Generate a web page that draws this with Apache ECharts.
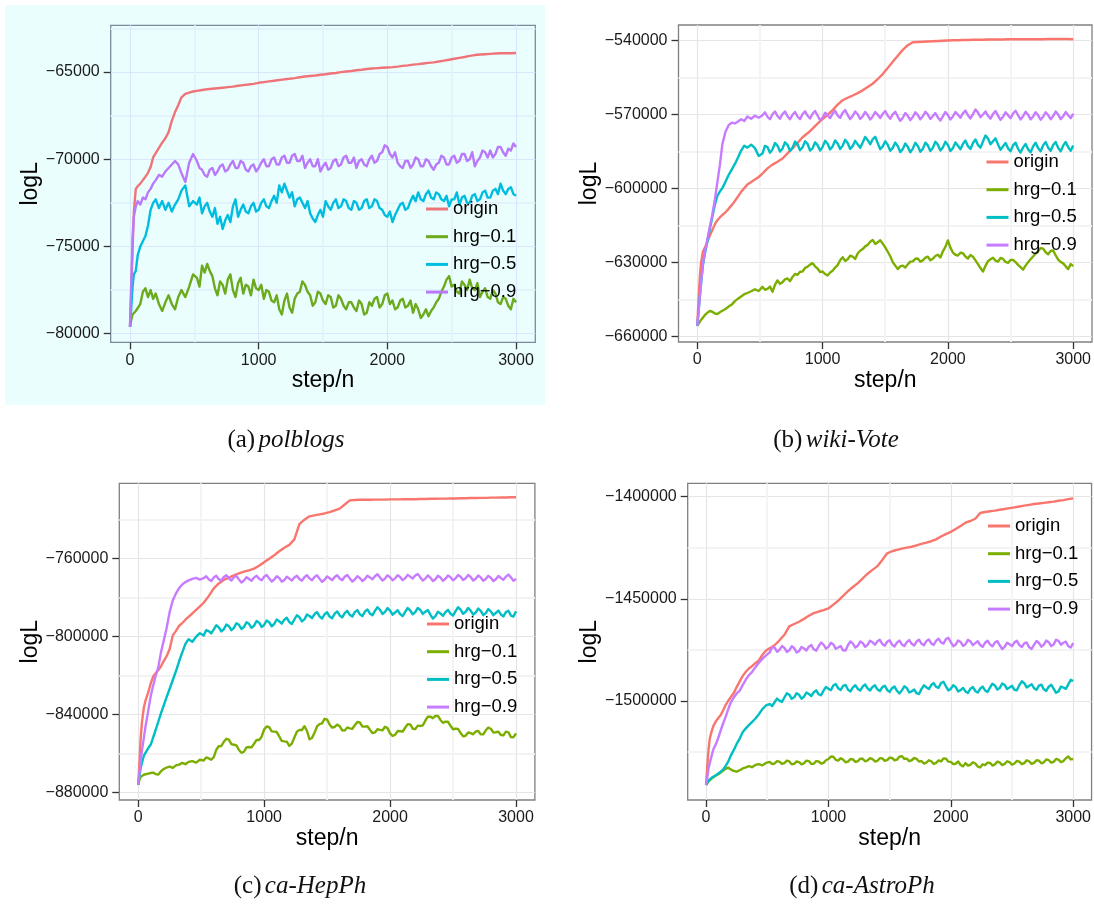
<!DOCTYPE html>
<html>
<head>
<meta charset="utf-8">
<script src="https://cdn.jsdelivr.net/npm/echarts@6/dist/echarts.min.js"></script>
<style>
  html, body { margin: 0; padding: 0; background: #ffffff; }
  #chart { width: 1094px; height: 915px; }
</style>
</head>
<body>
<div id="chart"></div>
<script>
// step/n positions for the smooth "origin" curves
const stepsCoarse = [0,10,20,30,45,60,80,100,120,140,160,180,200,225,250,275,300,325,350,375,400,430,460,490,
  520,560,600,640,680,720,760,800,840,880,
  920,960,1000,1040,1080,1120,1160,1200,1240,1280,
  1320,1360,1400,1440,1480,1520,1560,1600,1640,1680,
  1720,1760,1800,1840,1880,1920,1960,2000,2040,2080,
  2120,2160,2200,2240,2280,2320,2360,2400,2440,2480,
  2520,2560,2600,2640,2680,2720,2760,2800,2840,2880,
  2920,2960,3000];

// step/n positions for the noisy hrg curves
const stepsFine = [0,10,20,30,45,60,80,100,120,140,160,180,200,225,250,275,300,325,350,375,400,430,460,490,
  520,540,560,580,600,620,640,660,680,700,
  720,740,760,780,800,820,840,860,880,900,
  920,940,960,980,1000,1020,1040,1060,1080,1100,
  1120,1140,1160,1180,1200,1220,1240,1260,1280,1300,
  1320,1340,1360,1380,1400,1420,1440,1460,1480,1500,
  1520,1540,1560,1580,1600,1620,1640,1660,1680,1700,
  1720,1740,1760,1780,1800,1820,1840,1860,1880,1900,
  1920,1940,1960,1980,2000,2020,2040,2060,2080,2100,
  2120,2140,2160,2180,2200,2220,2240,2260,2280,2300,
  2320,2340,2360,2380,2400,2420,2440,2460,2480,2500,
  2520,2540,2560,2580,2600,2620,2640,2660,2680,2700,
  2720,2740,2760,2780,2800,2820,2840,2860,2880,2900,
  2920,2940,2960,2980,3000];

const seriesNames = ['origin', 'hrg\u22120.1', 'hrg\u22120.5', 'hrg\u22120.9'];

// ---- (a) polblogs : logL ----
const polblogsOrigin = [-79600,-77500,-75200,-73000,-71700,-71550,-71400,-71200,-71000,-70780,-70450,-69900,-69650,-69350,-69050,-68800,-68450,-67800,-67300,-66900,-66450,-66250,-66180,-66120,
  -66080,-66030,-65990,-65960,-65930,-65900,-65870,-65840,-65790,-65750,
  -65720,-65680,-65620,-65580,-65540,-65500,-65460,-65420,-65390,-65350,
  -65300,-65260,-65230,-65200,-65160,-65130,-65090,-65060,-65010,-64970,
  -64940,-64900,-64870,-64830,-64800,-64780,-64760,-64740,-64720,-64690,
  -64650,-64620,-64580,-64550,-64510,-64480,-64450,-64400,-64350,-64300,
  -64240,-64190,-64140,-64080,-64030,-64000,-63980,-63960,-63940,-63930,
  -63920,-63930,-63910];
const polblogsHrg01 = [-79600,-79200,-78900,-79000,-78700,-78800,-78300,-77600,-77400,-77900,-77500,-78000,-77700,-78300,-78700,-78200,-77800,-78300,-78600,-77900,-77500,-77900,-77300,-76600,
  -76800,-77300,-76100,-76500,-76000,-76400,-76700,-77400,-77800,-77000,
  -77200,-77700,-76900,-76600,-77500,-77900,-77100,-76800,-77700,-77200,
  -77300,-77800,-76900,-77400,-77500,-77200,-78000,-77500,-77600,-78100,
  -78200,-77800,-78600,-78900,-78100,-77700,-78500,-78800,-78000,-77700,
  -77600,-77000,-77200,-77600,-77800,-78400,-78200,-77600,-77700,-78100,
  -78300,-77800,-77900,-78500,-78400,-77800,-78000,-78400,-78600,-78200,
  -78200,-78500,-78700,-78100,-78300,-78900,-78800,-78200,-78400,-78000,
  -77900,-78500,-78300,-77800,-77700,-78300,-78100,-78600,-78500,-78100,
  -78000,-78500,-78400,-78100,-78800,-78300,-78600,-79100,-78900,-78600,
  -79000,-78700,-78500,-78200,-78000,-77600,-77300,-76900,-76700,-77300,
  -77200,-77600,-77700,-77000,-77200,-77500,-76900,-77400,-77500,-77100,
  -77900,-77600,-77400,-77900,-78000,-77500,-77700,-78200,-78300,-77900,
  -78000,-78400,-78600,-78000,-78200];
const polblogsHrg05 = [-79600,-78500,-77300,-76600,-76400,-75500,-75000,-74700,-74400,-73800,-72900,-72500,-72300,-72800,-72400,-72900,-72500,-73000,-72600,-72300,-71800,-71500,-72700,-72400,
  -72600,-72200,-73100,-72700,-72500,-73000,-73300,-72800,-73700,-73300,
  -74000,-73500,-73200,-73600,-72700,-72300,-73300,-72900,-72600,-73000,
  -73100,-72700,-72500,-73000,-72900,-72500,-72300,-72700,-72800,-72400,
  -72100,-72500,-71500,-71900,-71400,-71800,-72200,-71900,-72700,-72300,
  -72200,-72500,-72800,-72400,-73100,-73400,-73600,-73200,-72900,-73300,
  -72400,-72700,-72900,-72500,-72300,-72800,-72700,-72300,-72400,-72800,
  -72900,-72400,-72500,-72900,-72800,-72400,-72300,-72800,-72700,-72300,
  -72400,-72800,-72900,-73200,-73300,-73000,-73600,-73200,-72900,-72600,
  -72500,-72900,-72800,-72400,-72100,-72400,-71900,-72300,-72400,-72000,
  -71800,-72200,-72300,-71900,-72000,-72300,-72400,-72100,-72700,-72300,
  -72300,-71900,-72600,-72200,-72100,-72500,-72500,-72100,-72000,-72400,
  -72300,-71900,-71800,-72200,-72200,-71800,-71700,-72000,-71400,-71800,
  -72000,-71700,-71600,-72000,-72100];
const polblogsHrg09 = [-79600,-77000,-74500,-73300,-72700,-72400,-72600,-72200,-72300,-71900,-71700,-71400,-71200,-70900,-71000,-70700,-70500,-70300,-70100,-70300,-70800,-71300,-70200,-69700,
  -70100,-70500,-70600,-70900,-71000,-70600,-70500,-70900,-70700,-70400,
  -70300,-70700,-70600,-70300,-70100,-70500,-70500,-70100,-70200,-70600,
  -70700,-70400,-70300,-70700,-70500,-70200,-70000,-70400,-70400,-70000,
  -69900,-70300,-70300,-69900,-69800,-70200,-70200,-69800,-69700,-70100,
  -70100,-69800,-70500,-70200,-70000,-70400,-70400,-70000,-70700,-70400,
  -70200,-70600,-70500,-70100,-70000,-70400,-70300,-69900,-69800,-70200,
  -70200,-69900,-70500,-70100,-70000,-70300,-70400,-70000,-69800,-70200,
  -70100,-69700,-69600,-69200,-69300,-69700,-69900,-69600,-70200,-70400,
  -70500,-70100,-70100,-70500,-70300,-69900,-70000,-70400,-70400,-70000,
  -70100,-70400,-70600,-70300,-70200,-69800,-69900,-70300,-70300,-69900,
  -69800,-70200,-70100,-69700,-69700,-70100,-70000,-69600,-70400,-70100,
  -69900,-69500,-69600,-69900,-69500,-69900,-69700,-69300,-69300,-69600,
  -69800,-69400,-69500,-69100,-69300];

// ---- (b) wiki-Vote ----
const wikiOrigin = [-655600,-645000,-636000,-630000,-625500,-624000,-621500,-619000,-616800,-614500,-612800,-611700,-610700,-609600,-608200,-606700,-605000,-603200,-601300,-599800,-598300,-597300,-596300,-595300,
  -593900,-591800,-590300,-589100,-587800,-585700,-583700,-581500,-579200,-577600,
  -575700,-573700,-571800,-570100,-568200,-566000,-564200,-563200,-562300,-561300,
  -560200,-558800,-557500,-555600,-553600,-551100,-548600,-546200,-543800,-541900,
  -540700,-540600,-540500,-540400,-540300,-540200,-540100,-540000,-539900,-539900,
  -539800,-539800,-539700,-539700,-539700,-539600,-539600,-539600,-539600,-539500,
  -539500,-539500,-539500,-539500,-539500,-539500,-539500,-539400,-539400,-539400,
  -539400,-539400,-539500];
const wikiHrg01 = [-655600,-654800,-653900,-653200,-652200,-651300,-650300,-649600,-649900,-650600,-650800,-650100,-649500,-648800,-647800,-647000,-645600,-644600,-643700,-642800,-642300,-641600,-640800,-641500,
  -639800,-641000,-640600,-639700,-641800,-639000,-637200,-638600,-637900,-636800,
  -636400,-637500,-635800,-634600,-634900,-633700,-633600,-632200,-631600,-630800,
  -630200,-631500,-632400,-633800,-633600,-634600,-635200,-634000,-633300,-632000,
  -631000,-629000,-627800,-629300,-628600,-627200,-627600,-628500,-626300,-625200,
  -624500,-623400,-622800,-621500,-620800,-622400,-621800,-620900,-622300,-623800,
  -625600,-627400,-629800,-631200,-632600,-631500,-631200,-632000,-630700,-629600,
  -629500,-628400,-628300,-629600,-629100,-628000,-627600,-629000,-628400,-627300,
  -626800,-627900,-625400,-623600,-621000,-623900,-625900,-626800,-627100,-626000,
  -626200,-627500,-628300,-626900,-627600,-629100,-630600,-632200,-633600,-631300,
  -629400,-628600,-628000,-629200,-629600,-628100,-628500,-629700,-630100,-628900,
  -628900,-629800,-630900,-631800,-632800,-631200,-629800,-628600,-627500,-626300,
  -625400,-624100,-624300,-625800,-626600,-625300,-625100,-627000,-628800,-629700,
  -630300,-631500,-632600,-630600,-631400];
const wikiHrg05 = [-655600,-650000,-644000,-638500,-631000,-626500,-621500,-616500,-611500,-606500,-603000,-601200,-599800,-597200,-594500,-592300,-590000,-587400,-584600,-582600,-583400,-582200,-583600,-586800,
  -585800,-582700,-583200,-585450,-584100,-581550,-582600,-585000,-583800,-581250,
  -582300,-584700,-583500,-580950,-582000,-584450,-583300,-580800,-581900,-584600,
  -583700,-581250,-582400,-584550,-583100,-580650,-581800,-584150,-582900,-580500,
  -581700,-583950,-582600,-580250,-581500,-583950,-582800,-580650,-582100,-583500,
  -581300,-579050,-580400,-582000,-580000,-579000,-581600,-584050,-582900,-580800,
  -582300,-584700,-583500,-581350,-582800,-585200,-584000,-581750,-583100,-585250,
  -583800,-581450,-582700,-585100,-583900,-581400,-582500,-584800,-583500,-581050,
  -582200,-584550,-583300,-581050,-582400,-584800,-583600,-581300,-582600,-584050,
  -581900,-580550,-582800,-583950,-581500,-580100,-582300,-583400,-580900,-578500,
  -579700,-582050,-580800,-579650,-582100,-584300,-582900,-581500,-583700,-584900,
  -582500,-581400,-583900,-585400,-583300,-581900,-584100,-585300,-582900,-581450,
  -583600,-584850,-582500,-581150,-583400,-584650,-582300,-581100,-583500,-584850,
  -582600,-581100,-583200,-584650,-582500];
const wikiHrg09 = [-655600,-650000,-644000,-638000,-630500,-626000,-620500,-615500,-610500,-604500,-597500,-590500,-582000,-577000,-574300,-573300,-573600,-572800,-571900,-572600,-570800,-571700,-570500,-571300,
  -570300,-569100,-570900,-571900,-569900,-568750,-570600,-571700,-569800,-568750,
  -570700,-571900,-570100,-568950,-570800,-571850,-569900,-568700,-570500,-571600,
  -569700,-568550,-570400,-572300,-571200,-569250,-570300,-571450,-569600,-568500,
  -570400,-571350,-569300,-568200,-570100,-571850,-570600,-568750,-569900,-571800,
  -570700,-568950,-570200,-572000,-570800,-568950,-570100,-571400,-569700,-568600,
  -570500,-571700,-569900,-568850,-570800,-572550,-571300,-569400,-570500,-572250,
  -571000,-569100,-570200,-571950,-570700,-568850,-570000,-571800,-570600,-569400,
  -571200,-572450,-570700,-568950,-570200,-572000,-570800,-568950,-570100,-571300,
  -569500,-568400,-570300,-571550,-569800,-568000,-569200,-571100,-570000,-568750,
  -570500,-571650,-569800,-568600,-570400,-572150,-570900,-569100,-570300,-571450,
  -569600,-568450,-570300,-572000,-570700,-568900,-570100,-571950,-570800,-569050,
  -570300,-572100,-570900,-569050,-570200,-571900,-570600,-568800,-570000,-571850,
  -570700,-569000,-570300,-571450,-569600];

// ---- (c) ca-HepPh ----
const hepOrigin = [-876200,-865000,-852000,-844000,-836500,-832500,-828800,-824000,-820500,-818800,-817300,-815500,-813000,-810300,-806500,-799500,-797200,-794600,-793200,-791500,-790000,-788300,-786500,-784700,
  -782800,-779400,-775400,-772900,-771100,-769900,-768700,-767700,-766800,-766200,
  -765300,-763800,-762000,-760200,-758400,-756400,-754600,-753100,-750300,-742500,
  -740200,-738500,-738000,-737500,-737000,-736300,-735400,-734500,-732400,-730300,
  -730100,-730000,-730000,-730000,-729900,-729900,-729900,-729800,-729800,-729800,
  -729700,-729700,-729700,-729600,-729600,-729500,-729500,-729400,-729400,-729300,
  -729300,-729200,-729200,-729100,-729100,-729000,-729000,-728900,-728900,-728800,
  -728800,-728700,-728700];
const hepHrg01 = [-876200,-873500,-872000,-871500,-871000,-870600,-870400,-870100,-869900,-870700,-870900,-869300,-868200,-867300,-866800,-867500,-866200,-865800,-864900,-865600,-864400,-864000,-864800,-863300,
  -863700,-862150,-862600,-863300,-862000,-858200,-856400,-856250,-854100,-852550,
  -853000,-855300,-855600,-855950,-858300,-859750,-859200,-857000,-856800,-856950,
  -855100,-853150,-853200,-851500,-847800,-846200,-846600,-848750,-848900,-849100,
  -851300,-853600,-853900,-854050,-856200,-855050,-851900,-848950,-848000,-848050,
  -846100,-848450,-852800,-852150,-849500,-846250,-845000,-844650,-842300,-842750,
  -845200,-846850,-846500,-845300,-846100,-848200,-848300,-846750,-847200,-847400,
  -845600,-843900,-844200,-846250,-846300,-846100,-847900,-849600,-849300,-847650,
  -848000,-848200,-846400,-847100,-849800,-851150,-850500,-848600,-848700,-848800,
  -846900,-845050,-845200,-847400,-847600,-845800,-846000,-845650,-843300,-841250,
  -841200,-842000,-840800,-840850,-842900,-844350,-843800,-843850,-845900,-847650,
  -847400,-847500,-849600,-851300,-851000,-849350,-849700,-850250,-848800,-848550,
  -850300,-850250,-848200,-846800,-847400,-849300,-849200,-848900,-850600,-850750,
  -848900,-849300,-851700,-851750,-849800];
const hepHrg05 = [-876200,-871500,-867500,-864800,-861200,-859500,-857300,-855500,-851600,-847800,-843700,-839700,-836000,-831300,-826900,-822400,-817800,-812800,-808200,-803900,-801500,-802800,-800200,-798400,
  -799600,-796850,-797300,-798500,-796500,-794350,-795400,-797500,-796400,-794000,
  -794800,-796850,-795700,-793300,-794100,-796250,-795200,-792800,-793600,-795650,
  -794500,-792150,-793000,-795200,-794200,-791900,-792800,-794850,-793700,-791400,
  -792300,-793500,-791500,-790500,-792700,-793650,-791400,-789200,-790200,-792350,
  -791300,-788850,-789600,-790700,-788600,-787600,-789800,-790850,-788700,-787700,
  -789900,-790750,-788400,-787250,-789300,-790300,-788100,-786950,-789000,-789900,
  -787600,-786550,-788700,-789650,-787400,-786250,-788300,-789250,-787000,-785100,
  -786400,-788550,-787500,-785550,-786800,-788900,-787800,-786600,-788600,-789650,
  -787500,-785500,-786700,-788750,-787600,-785450,-786500,-788550,-787400,-786550,
  -788900,-790900,-789700,-787400,-788300,-789550,-787600,-786400,-788400,-789350,
  -787100,-785100,-786300,-788450,-787400,-785500,-786800,-788900,-787800,-785800,
  -787000,-789150,-788100,-786050,-787200,-789200,-788000,-786800,-788800,-789800,
  -787600,-786900,-789400,-789900,-787200];
const hepHrg09 = [-876200,-870000,-864000,-858500,-852000,-845500,-838000,-830500,-825000,-820000,-815800,-808500,-803000,-796000,-787500,-781500,-778000,-775300,-773400,-772200,-771300,-770600,-770000,-770900,
  -770200,-769200,-770800,-771650,-769900,-769000,-770700,-771450,-769600,-768700,
  -770400,-771350,-769700,-769000,-770900,-772450,-771400,-769700,-770600,-771550,
  -769900,-768900,-770500,-771300,-769500,-768600,-770300,-771900,-770900,-769200,
  -770100,-771950,-771200,-769500,-770400,-771400,-769800,-768900,-770600,-771450,
  -769700,-768700,-770300,-771250,-769600,-768750,-770500,-772050,-771000,-769300,
  -770200,-771200,-769600,-768700,-770400,-771250,-769500,-768600,-770300,-771900,
  -770900,-769200,-770100,-771650,-770600,-768900,-769800,-770800,-769200,-768200,
  -769800,-771400,-770400,-768750,-769700,-771300,-770300,-768650,-769600,-771200,
  -770200,-768500,-769400,-770400,-768800,-768000,-769800,-771400,-770400,-768850,
  -769900,-771600,-770700,-769000,-769900,-771500,-770500,-768800,-769700,-771300,
  -770300,-768600,-769500,-771150,-770200,-768600,-769600,-771350,-770500,-768850,
  -769800,-771500,-770600,-769000,-770000,-771650,-770700,-769100,-770100,-771050,
  -769400,-768350,-769900,-771550,-770600];

// ---- (d) ca-AstroPh ----
const astroOrigin = [-1541100,-1532000,-1524000,-1518500,-1515000,-1512200,-1510000,-1508300,-1506900,-1504500,-1502000,-1500000,-1498300,-1496200,-1493200,-1490400,-1487700,-1485700,-1484100,-1482900,-1481600,-1480300,-1477400,-1475300,
  -1474200,-1472700,-1470300,-1467600,-1463500,-1462300,-1461200,-1459800,-1458300,-1457000,
  -1456200,-1455500,-1454700,-1452800,-1450900,-1448600,-1446200,-1444200,-1442300,-1440000,
  -1437700,-1435800,-1434000,-1431000,-1427700,-1426700,-1426000,-1425400,-1424900,-1424500,
  -1423800,-1423100,-1422500,-1421800,-1420900,-1419500,-1418300,-1417200,-1415800,-1414300,
  -1412700,-1411900,-1410800,-1408000,-1407500,-1407100,-1406800,-1406400,-1406000,-1405600,
  -1405200,-1404800,-1404400,-1404000,-1403600,-1403300,-1403000,-1402700,-1402400,-1402000,
  -1401700,-1401200,-1400800];
const astroHrg01 = [-1541100,-1540200,-1539400,-1538700,-1538000,-1537200,-1536500,-1535800,-1535000,-1534000,-1533200,-1532600,-1533400,-1534200,-1534600,-1533900,-1533000,-1532500,-1531900,-1532400,-1531400,-1530900,-1531500,-1530300,
  -1529800,-1530900,-1530600,-1529400,-1529700,-1530800,-1530400,-1529200,-1529600,-1531000,
  -1530800,-1529600,-1529900,-1531000,-1530500,-1529200,-1529400,-1530800,-1530700,-1529400,
  -1529600,-1530700,-1530300,-1529000,-1528400,-1527200,-1527300,-1528800,-1529200,-1528000,
  -1528700,-1530000,-1529700,-1528400,-1528600,-1529800,-1529500,-1528200,-1528300,-1529500,
  -1529100,-1528000,-1528400,-1529600,-1529300,-1528000,-1528100,-1529300,-1528900,-1527700,
  -1527900,-1529000,-1528700,-1527300,-1527000,-1528300,-1528200,-1529400,-1529000,-1527900,
  -1528300,-1529600,-1529400,-1530600,-1530200,-1529000,-1529500,-1530800,-1530300,-1529100,
  -1529600,-1528100,-1528200,-1529700,-1529800,-1530900,-1530700,-1529600,-1531300,-1532000,
  -1530400,-1531600,-1531200,-1530000,-1530600,-1532100,-1532500,-1531000,-1531400,-1530200,
  -1530300,-1531600,-1531000,-1529700,-1530100,-1531400,-1530800,-1529500,-1529900,-1531200,
  -1530600,-1529300,-1529700,-1530900,-1530400,-1529000,-1529500,-1530800,-1530300,-1529000,
  -1529200,-1530500,-1530000,-1528600,-1528900,-1530200,-1529800,-1528400,-1528700,-1529900,
  -1529400,-1528000,-1527200,-1528600,-1528400];
const astroHrg05 = [-1541100,-1540000,-1539000,-1538300,-1537600,-1537000,-1536300,-1535500,-1534600,-1533500,-1531800,-1529800,-1527000,-1524200,-1521000,-1518400,-1515200,-1513400,-1511800,-1510300,-1508800,-1506600,-1504000,-1502200,
  -1501500,-1502450,-1500600,-1498800,-1499800,-1500450,-1498300,-1496200,-1496900,-1498950,
  -1498200,-1496200,-1497000,-1498850,-1497900,-1495850,-1496600,-1497550,-1495700,-1494800,
  -1496700,-1497200,-1494900,-1493100,-1494100,-1494650,-1492400,-1491700,-1493800,-1494600,
  -1492600,-1492150,-1494500,-1495300,-1493300,-1492300,-1494100,-1494900,-1492900,-1491950,
  -1493800,-1494850,-1493100,-1492300,-1494300,-1495150,-1493200,-1492500,-1494600,-1495550,
  -1493700,-1492950,-1495000,-1496300,-1494800,-1492800,-1493600,-1495850,-1495300,-1494350,
  -1496200,-1496600,-1494200,-1492350,-1493300,-1494150,-1492200,-1491250,-1493100,-1493550,
  -1491200,-1490600,-1492800,-1494850,-1494100,-1492250,-1493200,-1495350,-1494700,-1493600,
  -1495300,-1496050,-1494000,-1493150,-1495100,-1495900,-1493900,-1492950,-1494800,-1495550,
  -1493500,-1491550,-1492400,-1494400,-1493600,-1491450,-1492100,-1494150,-1493400,-1492550,
  -1494500,-1494750,-1492200,-1490350,-1491300,-1493350,-1492600,-1491750,-1493700,-1494500,
  -1492500,-1492000,-1494300,-1495050,-1493000,-1492050,-1493900,-1496000,-1495300,-1492950,
  -1493400,-1494050,-1491900,-1489650,-1490200];
const astroHrg09 = [-1541100,-1537500,-1533000,-1530500,-1527000,-1523600,-1521200,-1518000,-1514300,-1510900,-1507800,-1504200,-1501000,-1498400,-1496300,-1494900,-1492100,-1489500,-1487300,-1485900,-1483700,-1481400,-1479400,-1477700,
  -1476200,-1473650,-1473900,-1475850,-1475000,-1473100,-1474000,-1476000,-1475200,-1473250,
  -1474100,-1476250,-1475600,-1473550,-1474300,-1475250,-1473400,-1472650,-1474700,-1475350,
  -1473200,-1471400,-1472400,-1474350,-1473500,-1471500,-1472300,-1474450,-1473800,-1473100,
  -1475200,-1475300,-1472600,-1470850,-1471900,-1473850,-1473000,-1470900,-1471600,-1473450,
  -1472500,-1470500,-1471300,-1472450,-1470800,-1470050,-1472100,-1472950,-1471000,-1470300,
  -1472400,-1473300,-1471400,-1470450,-1472300,-1473150,-1471200,-1470200,-1472000,-1472850,
  -1470900,-1470000,-1471900,-1472700,-1470700,-1469850,-1471800,-1472550,-1470500,-1469500,
  -1471300,-1471900,-1469700,-1469050,-1471200,-1473200,-1472400,-1470350,-1471100,-1473050,
  -1472200,-1470100,-1470800,-1472650,-1471700,-1470750,-1472600,-1473450,-1471500,-1470500,
  -1472300,-1473250,-1471400,-1470700,-1472800,-1474550,-1473500,-1471450,-1472200,-1473150,
  -1471300,-1470550,-1472600,-1473600,-1471800,-1471350,-1473700,-1474500,-1472500,-1470650,
  -1471600,-1473400,-1472400,-1470400,-1471200,-1473150,-1472300,-1470050,-1470600,-1472450,
  -1471500,-1470950,-1473200,-1473800,-1471600];

// Axis breaks
const xTicks = [0, 1000, 2000, 3000];
const xMinor = [500, 1500, 2500];
const yTicksA = [-80000, -75000, -70000, -65000];
const yMinorA = [-77500, -72500, -67500, -62500];
const yTicksB = [-660000, -630000, -600000, -570000, -540000];
const yMinorB = [-645000, -615000, -585000, -555000];
const yTicksC = [-880000, -840000, -800000, -760000];
const yMinorC = [-860000, -820000, -780000, -740000];
const yTicksD = [-1500000, -1450000, -1400000];
const yMinorD = [-1525000, -1475000, -1425000];

// Captions
const captions = [['(a)', 'polblogs'], ['(b)', 'wiki-Vote'], ['(c)', 'ca-HepPh'], ['(d)', 'ca-AstroPh']];

const SANS = '"Liberation Sans", Arial, Helvetica, sans-serif';
const SERIF = '"Liberation Serif", "Times New Roman", serif';

const plainPalette = { lines: ['#F8766D', '#7CAE00', '#00BFC4', '#C77CFF'], major: '#E5E5E5', minor: '#F3F3F3', border: '#808080' };
const tintPalette  = { lines: ['#EF7479', '#6BAA1C', '#00BDE0', '#B97AFA'], major: '#D9E6FB', minor: '#E3F3FC', border: '#7A8A9C' };

const panels = [
  { data: [polblogsOrigin, polblogsHrg01, polblogsHrg05, polblogsHrg09], yMin: -80493, yMax: -62324,
    yTicks: yTicksA, yMinor: yMinorA, grid: { left: 110.7, top: 25.3, width: 424.6, height: 317 },
    legend: { left: 426, top: 199 }, nameGap: 68, caption: [286, 440], pal: tintPalette },
  { data: [wikiOrigin, wikiHrg01, wikiHrg05, wikiHrg09], yMin: -662150, yMax: -533720,
    yTicks: yTicksB, yMinor: yMinorB, grid: { left: 678.5, top: 25, width: 414, height: 317 },
    legend: { left: 986.5, top: 152 }, nameGap: 77, caption: [836, 440], pal: plainPalette },
  { data: [hepOrigin, hepHrg01, hepHrg05, hepHrg09], yMin: -883950, yMax: -721540,
    yTicks: yTicksC, yMinor: yMinorC, grid: { left: 119.3, top: 483.3, width: 415.6, height: 316.7 },
    legend: { left: 427, top: 614 }, nameGap: 76, caption: [300, 886], pal: plainPalette },
  { data: [astroOrigin, astroHrg01, astroHrg05, astroHrg09], yMin: -1548460, yMax: -1393440,
    yTicks: yTicksD, yMinor: yMinorD, grid: { left: 687.7, top: 483.3, width: 405.5, height: 316.7 },
    legend: { left: 988, top: 516 }, nameGap: 87, caption: [862, 886], pal: plainPalette }
];

const minus = v => String(v).replace('-', '\u2212');
const plain = v => String(v);

const grids = [], xAxes = [], yAxes = [], series = [], legends = [], graphics = [];

// light cyan panel behind (a)
graphics.push({ type: 'rect', z: -100, silent: true,
  shape: { x: 5, y: 5, width: 540, height: 400 }, style: { fill: '#EAFFFD' } });

const n = panels.length;
// minor grid axes first, so they sit underneath the major ones
panels.forEach((p, i) => {
  xAxes.push({ type: 'value', gridIndex: i, position: 'bottom', min: -150, max: 3150,
    axisLine: { show: false, onZero: false }, axisLabel: { show: false },
    axisTick: { show: false, customValues: xMinor },
    splitLine: { show: true, lineStyle: { color: p.pal.minor, width: 1.8 } } });
  yAxes.push({ type: 'value', gridIndex: i, position: 'left', min: p.yMin, max: p.yMax,
    axisLine: { show: false, onZero: false }, axisLabel: { show: false },
    axisTick: { show: false, customValues: p.yMinor },
    splitLine: { show: true, lineStyle: { color: p.pal.minor, width: 1.8 } } });
});

panels.forEach((p, i) => {
  grids.push(Object.assign({ show: true, backgroundColor: 'transparent',
    borderColor: p.pal.border, borderWidth: 1.3, containLabel: false }, p.grid));

  xAxes.push({ type: 'value', gridIndex: i, position: 'bottom', min: -150, max: 3150,
    axisLine: { show: false, onZero: false },
    axisTick: { show: true, length: 7, customValues: xTicks, lineStyle: { color: '#333', width: 1.3 } },
    axisLabel: { customValues: xTicks, fontSize: 16, color: '#1a1a1a', fontFamily: SANS, margin: 10,
      formatter: plain },
    splitLine: { show: true, lineStyle: { color: p.pal.major, width: 1.2 } },
    name: 'step/n', nameLocation: 'middle', nameGap: 27,
    nameTextStyle: { fontSize: 23, color: '#000', fontFamily: SANS } });

  yAxes.push({ type: 'value', gridIndex: i, position: 'left', min: p.yMin, max: p.yMax,
    axisLine: { show: false, onZero: false },
    axisTick: { show: true, length: 7, customValues: p.yTicks, lineStyle: { color: '#333', width: 1.3 } },
    axisLabel: { customValues: p.yTicks, fontSize: 16, color: '#1a1a1a', fontFamily: SANS, margin: 11,
      formatter: minus },
    splitLine: { show: true, lineStyle: { color: p.pal.major, width: 1.2 } },
    name: 'logL', nameLocation: 'middle', nameGap: p.nameGap, nameRotate: 90,
    nameTextStyle: { fontSize: 23, color: '#000', fontFamily: SANS } });

  p.data.forEach((vals, k) => {
    const color = p.pal.lines[k];
    const xs = k === 0 ? stepsCoarse : stepsFine;
    series.push({ type: 'line', name: seriesNames[k], xAxisIndex: n + i, yAxisIndex: n + i,
      data: xs.map((s, j) => [s, vals[j]]),
      showSymbol: false, symbol: 'none', silent: true, clip: true,
      lineStyle: { width: 2.4, color: color, join: 'round' }, itemStyle: { color: color },
      emphasis: { disabled: true } });
  });

  legends.push({ orient: 'vertical', left: p.legend.left, top: p.legend.top, padding: 0,
    icon: 'rect', itemWidth: 22, itemHeight: 3, itemGap: 7.7, selectedMode: false,
    textStyle: { fontSize: 18.5, lineHeight: 20, color: '#000', fontFamily: SANS },
    data: seriesNames.map((nm, k) => ({ name: nm, itemStyle: { color: p.pal.lines[k] } })) });

  graphics.push({ type: 'text', x: p.caption[0], y: p.caption[1], silent: true,
    style: { text: '{n|' + captions[i][0] + '} {i|' + captions[i][1] + '}',
      align: 'center', verticalAlign: 'middle',
      rich: { n: { fontFamily: SERIF, fontSize: 25, fill: '#111' },
              i: { fontFamily: SERIF, fontSize: 25, fontStyle: 'italic', fill: '#111' } } } });
});

const chart = echarts.init(document.getElementById('chart'), null, { renderer: 'canvas' });
chart.setOption({
  animation: false,
  backgroundColor: '#ffffff',
  grid: grids, xAxis: xAxes, yAxis: yAxes, series: series, legend: legends, graphic: graphics,
  tooltip: { show: false }
});
</script>
</body>
</html>
